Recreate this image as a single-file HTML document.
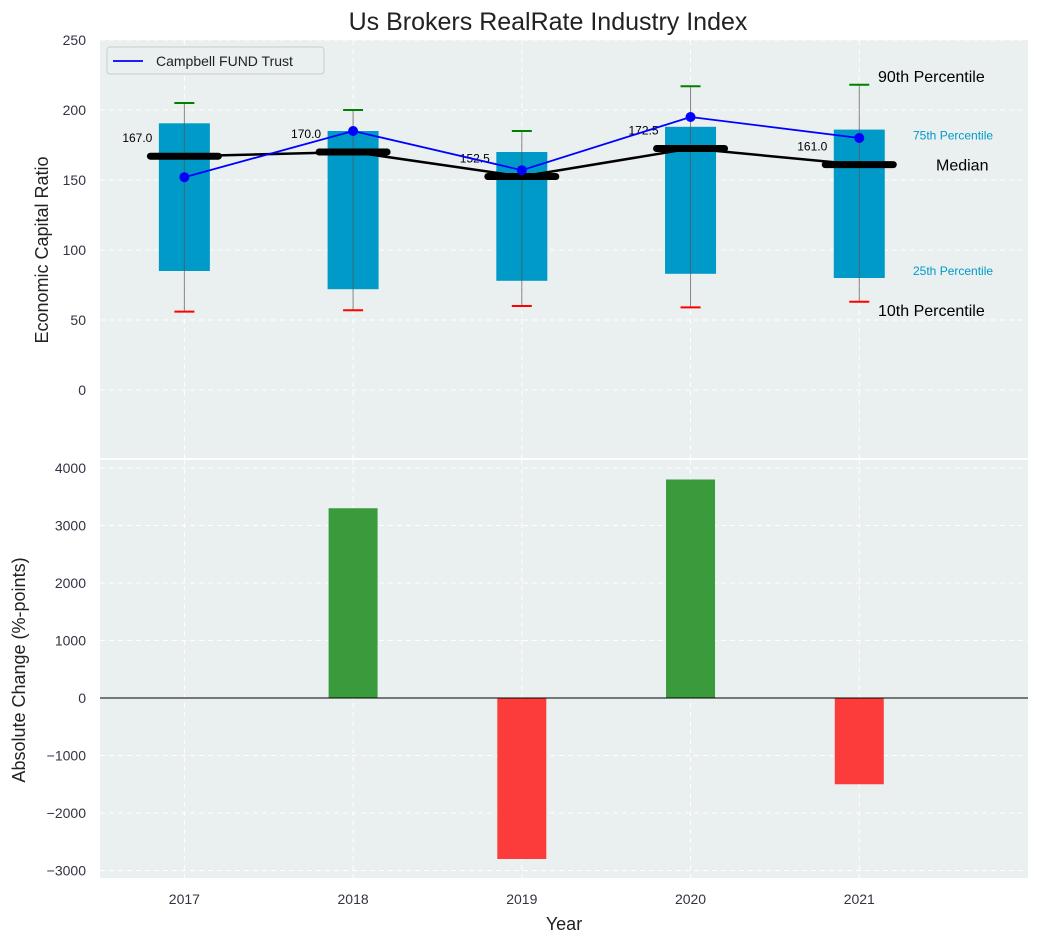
<!DOCTYPE html>
<html><head><meta charset="utf-8"><style>body{margin:0;background:#fff}svg{font-family:"Liberation Sans","DejaVu Sans",sans-serif}</style></head>
<body>
<svg id="c" width="1039" height="942" xmlns="http://www.w3.org/2000/svg"></svg>
<script>
const years=[2017,2018,2019,2020,2021];
const p90=[205,200,185,217,218];
const p75=[190.5,185,170,188,186];
const med=[167,170,152.5,172.5,161];
const p25=[85,72,78,83,80];
const p10=[56,57,60,59,63];
const fund=[152,185,157,195,180];
const change=[0,3300,-2800,3800,-1500];
const topTicks=[0,50,100,150,200,250];
const botTicks=[-3000,-2000,-1000,0,1000,2000,3000,4000];
const NS="http://www.w3.org/2000/svg",svg=document.getElementById('c');
function el(t,a,parent){const e=document.createElementNS(NS,t);for(const k in a)e.setAttribute(k,a[k]);(parent||svg).appendChild(e);return e;}
const L=100,R=1028;
const x=v=>L+(v-2016.5)*(R-L)/5.5;
const yT=v=>390-v*1.4;
const yB=v=>698-v*0.0575;
let g=el('rect',{x:L,y:40,width:R-L,height:418,fill:'#eaeff0'});

g=el('rect',{x:L,y:460,width:R-L,height:418,fill:'#eaeff0'});

years.forEach(yr=>{[[40,458],[460,878]].forEach(r=>{el('line',{x1:x(yr),x2:x(yr),y1:r[0],y2:r[1],stroke:'#fff','stroke-dasharray':'5,4','stroke-width':1});});
 let t=el('text',{x:x(yr),y:904,'text-anchor':'middle','font-size':14,fill:'#334'});t.textContent=yr;
 });
topTicks.forEach(v=>{el('line',{x1:L,x2:R,y1:yT(v),y2:yT(v),stroke:'#fff','stroke-dasharray':'5,4'});
 let t=el('text',{x:86,y:yT(v)+5,'text-anchor':'end','font-size':14,fill:'#334'});t.textContent=v;
 });
botTicks.forEach(v=>{el('line',{x1:L,x2:R,y1:yB(v),y2:yB(v),stroke:'#fff','stroke-dasharray':'5,4'});
 let t=el('text',{x:86,y:yB(v)+5,'text-anchor':'end','font-size':14,fill:'#334'});t.textContent=(v<0?'\u2212'+(-v):v);
 });
years.forEach((yr,i)=>{const cx=x(yr);
 let b=el('rect',{x:cx-25.5,y:yT(p75[i]),width:51,height:yT(p25[i])-yT(p75[i]),fill:'#009ac9'});
 
 el('line',{x1:cx,x2:cx,y1:yT(p90[i]),y2:yT(p10[i]),stroke:'#555','stroke-width':1,opacity:0.7});
 let c1=el('line',{x1:cx-10,x2:cx+10,y1:yT(p90[i]),y2:yT(p90[i]),stroke:'green','stroke-width':2});
 
 let c2=el('line',{x1:cx-10,x2:cx+10,y1:yT(p10[i]),y2:yT(p10[i]),stroke:'red','stroke-width':2});
 
});
el('polyline',{points:years.map((yr,i)=>x(yr)+','+yT(med[i])).join(' '),fill:'none',stroke:'#000','stroke-width':2.5});
years.forEach((yr,i)=>{const cx=x(yr);
 let m=el('line',{x1:cx-34,x2:cx+34,y1:yT(med[i]),y2:yT(med[i]),stroke:'#000','stroke-width':7,'stroke-linecap':'round'});
 
 let t=el('text',{x:cx-32,y:yT(med[i])-14,'text-anchor':'end','font-size':12,fill:'#000'});t.textContent=med[i].toFixed(1);
 });
let fl=el('polyline',{points:years.map((yr,i)=>x(yr)+','+yT(fund[i])).join(' '),fill:'none',stroke:'blue','stroke-width':1.8});

years.forEach((yr,i)=>{let d=el('circle',{cx:x(yr),cy:yT(fund[i]),r:5,fill:'blue'});
 });
[[p90,'90th Percentile',16,'#000',878,-3],[p75,'75th Percentile',12,'#009ac9',913,10],[med,'Median',16,'#000',936,6],[p25,'25th Percentile',12,'#009ac9',913,-3],[p10,'10th Percentile',16,'#000',878,14]].forEach(a=>{
 let t=el('text',{x:a[4],y:yT(a[0][4])+a[5],'font-size':a[2],fill:a[3]});t.textContent=a[1];
 });
let lg=el('g',{});
el('rect',{x:107,y:47,width:217,height:27,rx:3,fill:'#eaeff0',stroke:'#ccc'},lg);
el('line',{x1:113,x2:143,y1:61,y2:61,stroke:'blue','stroke-width':1.8},lg);
let lt=el('text',{x:156,y:66,'font-size':14,fill:'#222'},lg);lt.textContent='Campbell FUND Trust';
years.forEach((yr,i)=>{const v=change[i];if(!v)return;
 let b=el('rect',{x:x(yr)-24.5,y:Math.min(yB(v),yB(0)),width:49,height:Math.abs(yB(v)-yB(0)),fill:v>0?'#3a9b3c':'#fc3b3b'});
 });
el('line',{x1:L,x2:R,y1:yB(0),y2:yB(0),stroke:'#000','stroke-width':1});
let t=el('text',{x:548,y:30,'text-anchor':'middle','font-size':25,fill:'#222'});t.textContent='Us Brokers RealRate Industry Index';

t=el('text',{x:564,y:930,'text-anchor':'middle','font-size':18,fill:'#222'});t.textContent='Year';

t=el('text',{x:48,y:250,'text-anchor':'middle','font-size':18,fill:'#222',transform:'rotate(-90 48 250)'});t.textContent='Economic Capital Ratio';

t=el('text',{x:25,y:670,'text-anchor':'middle','font-size':18,fill:'#222',transform:'rotate(-90 25 670)'});t.textContent='Absolute Change (%-points)';

</script>
</body></html>
